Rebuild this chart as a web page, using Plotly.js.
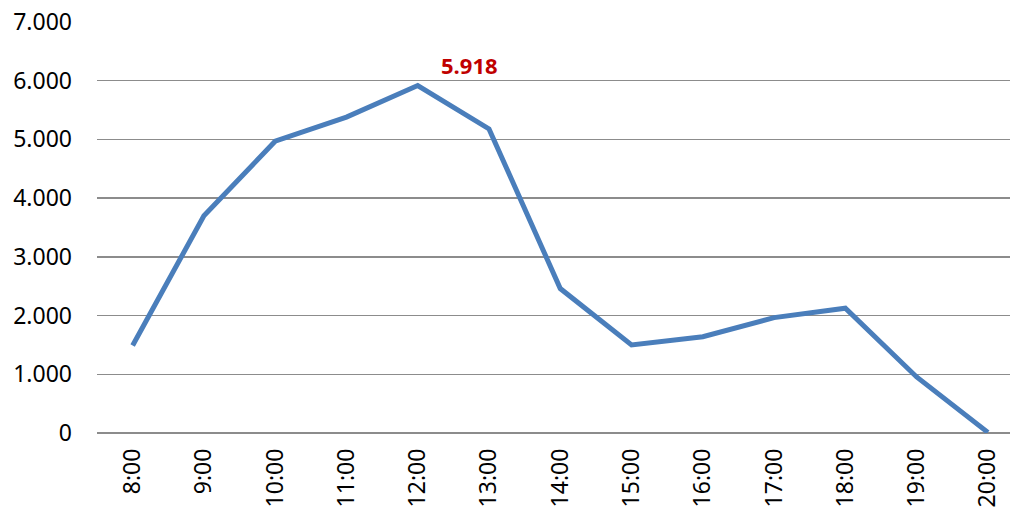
<!DOCTYPE html>
<html>
<head>
<meta charset="utf-8">
<script src="https://cdn.plot.ly/plotly-3.0.1.min.js"></script>
<style>html,body{margin:0;padding:0;background:#fff}#chart{width:1011px;height:510px}</style>
</head>
<body>
<div id="chart"></div>
<script>
const hours = ["8:00","9:00","10:00","11:00","12:00","13:00","14:00","15:00","16:00","17:00","18:00","19:00","20:00"];
const visitors = [1490, 3700, 4970, 5380, 5918, 5180, 2460, 1500, 1640, 1965, 2125, 955, 10];
const yTicks = [0, 1000, 2000, 3000, 4000, 5000, 6000, 7000];

const peakIdx = visitors.indexOf(Math.max(...visitors));
const peakLabel = visitors[peakIdx].toString().replace(/\B(?=(\d{3})+(?!\d))/g, ".");

const trace = {
  x: hours, y: visitors, type: 'scatter', mode: 'lines',
  line: {color: '#4A7EBB', width: 5}, hoverinfo: 'x+y'
};

const layout = {
  width: 1011, height: 510,
  margin: {l: 97, r: 1, t: 22, b: 77},
  paper_bgcolor: '#ffffff', plot_bgcolor: '#ffffff',
  separators: ',.',
  showlegend: false,
  font: {family: 'Noto Sans, DejaVu Sans, sans-serif', size: 23, color: '#000'},
  xaxis: {
    type: 'category', range: [-0.5, 12.31],
    tickangle: -90, showgrid: false, zeroline: false, showline: false,
    ticks: '', tickfont: {family: 'Noto Sans, sans-serif', size: 23, color: '#000'},
    ticklabelstandoff: 10
  },
  yaxis: {
    range: [0, 7000], tickvals: yTicks, tickformat: ',d',
    showgrid: true, gridcolor: '#8c8c8c', gridwidth: 1.5,
    zeroline: true, zerolinecolor: '#8c8c8c', zerolinewidth: 1.5,
    showline: false, ticks: '', ticklabelstandoff: 24,
    tickfont: {family: 'Noto Sans, sans-serif', size: 23, color: '#000'}
  },
  annotations: [{
    x: hours[peakIdx], y: visitors[peakIdx], text: '<b>' + peakLabel + '</b>',
    showarrow: false, xanchor: 'center', yanchor: 'bottom',
    xshift: 52, yshift: 4,
    font: {family: 'Open Sans, Noto Sans, sans-serif', size: 22, color: '#C00000'}
  }]
};

Plotly.newPlot('chart', [trace], layout, {displayModeBar: false, staticPlot: true});
</script>
</body>
</html>
